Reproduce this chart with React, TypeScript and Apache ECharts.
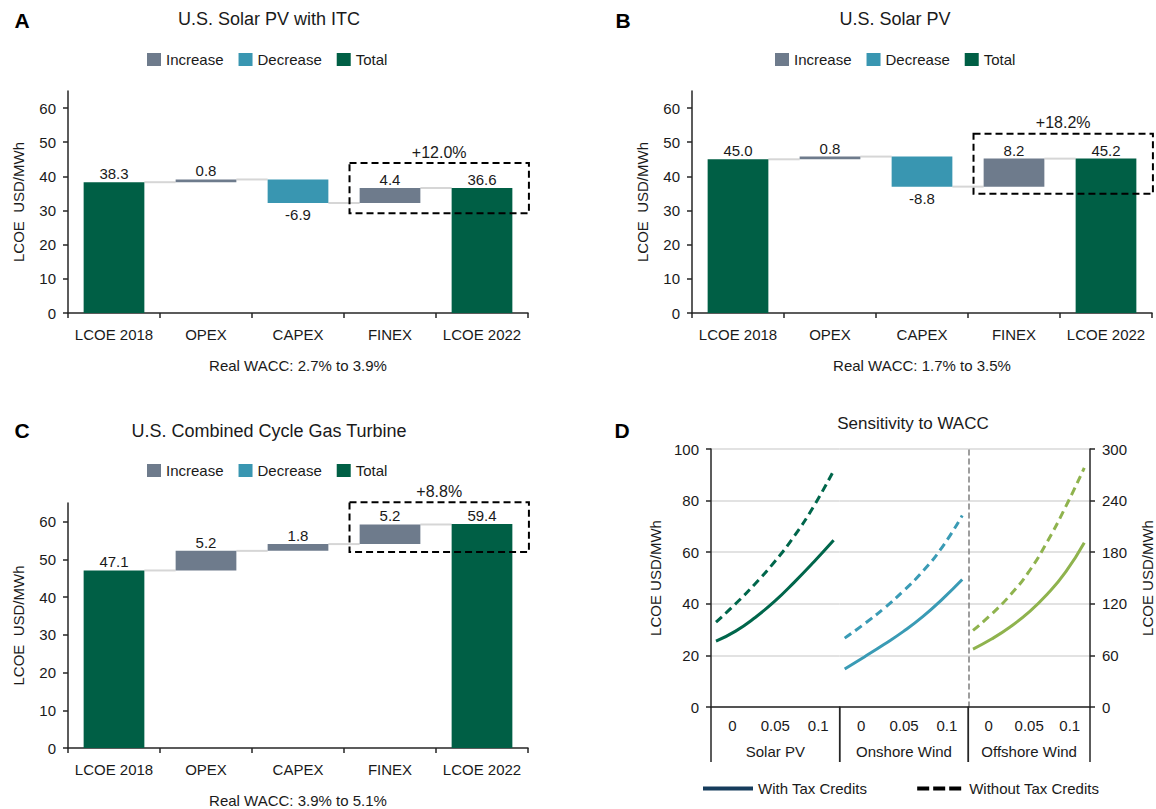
import React, { useEffect, useRef } from 'react';
import * as echarts from 'echarts';

const FONT = '"Liberation Sans", Arial, Helvetica, sans-serif';
const TEXT = '#1a1a1a';
const AXIS = '#262626';

// Waterfall panels
const categories = ['LCOE 2018', 'OPEX', 'CAPEX', 'FINEX', 'LCOE 2022'];
const yTicks = [0, 10, 20, 30, 40, 50, 60];
const solarItcValues = [38.3, 0.8, -6.9, 4.4, 36.6];
const solarValues = [45.0, 0.8, -8.8, 8.2, 45.2];
const ccgtValues = [47.1, 5.2, 1.8, 5.2, 59.4];
const solarItcBox = [29.2, 43.9];
const solarBox = [34.9, 52.5];
const ccgtBox = [52.0, 65.2];
const boxLabels = ['+12.0%', '+18.2%', '+8.8%'];
const panelTitles = ['U.S. Solar PV with ITC', 'U.S. Solar PV', 'U.S. Combined Cycle Gas Turbine', 'Sensitivity to WACC'];
const panelLetters = ['A', 'B', 'C', 'D'];
const waccNotes = ['Real WACC: 2.7% to 3.9%', 'Real WACC: 1.7% to 3.5%', 'Real WACC: 3.9% to 5.1%'];
const legendNames = ['Increase', 'Decrease', 'Total'];

// Sensitivity panel
const waccValues = [0, 0.02, 0.04, 0.06, 0.08, 0.1, 0.12];
const waccTickLabels = ['0', '0.05', '0.1'];
const technologies = ['Solar PV', 'Onshore Wind', 'Offshore Wind'];
const solarWith = [25.5, 29.4, 34.7, 41.0, 48.4, 56.3, 64.6];
const solarWithout = [32.9, 40.0, 47.8, 56.4, 66.3, 78.0, 91.6];
const onshoreWith = [14.7, 19.4, 24.2, 29.3, 35.1, 41.9, 49.4];
const onshoreWithout = [26.7, 32.2, 38.2, 45.0, 52.7, 62.2, 74.2];
const offshoreWith = [67.4, 79, 93, 110, 131, 157, 191];
const offshoreWithout = [89, 108, 130, 157, 192, 233, 278];
const lineNames = ['With Tax Credits', 'Without Tax Credits'];

const COLORS = {
  increase: '#6e7b8c',
  decrease: '#3996b1',
  total: '#005f45',
  solar: '#00664b',
  onshore: '#3a9bb5',
  offshore: '#8fb34e',
  withLegend: '#163c5c',
  withoutLegend: '#000000',
  connector: '#d6d6d6',
  grid: '#d9d9d9',
};

function buildWaterfall(vals: number[]) {
  const base: any[] = [];
  const inc: any[] = [];
  const dec: any[] = [];
  const tot: any[] = [];
  const levels: number[] = [];
  let run = vals[0];
  vals.forEach((v, i) => {
    if (i === 0 || i === vals.length - 1) {
      base.push(0);
      tot.push(v);
      inc.push('-');
      dec.push('-');
    } else {
      if (v >= 0) {
        base.push(run);
        inc.push(v);
        dec.push('-');
      } else {
        base.push(run + v);
        dec.push(-v);
        inc.push('-');
      }
      tot.push('-');
      run += v;
    }
    if (i < vals.length - 1) levels.push(i === 0 ? v : run);
  });
  return { base, inc, dec, tot, levels };
}

export default function App() {
  const ref = useRef<HTMLDivElement>(null);
  useEffect(() => {
    if (!ref.current) return;
    const chart = echarts.init(ref.current, null, { renderer: 'svg' });

    const grids = [
      { left: 68, top: 91, width: 460, height: 222 },
      { left: 692, top: 91, width: 460, height: 222 },
      { left: 68, top: 503, width: 460, height: 247 },
      { left: 711, top: 449, width: 128.7, height: 258 },
      { left: 839.7, top: 449, width: 128.6, height: 258 },
      { left: 968.3, top: 449, width: 128.7, height: 258 },
    ];

    const panels = [
      { vals: solarItcValues, box: solarItcBox },
      { vals: solarValues, box: solarBox },
      { vals: ccgtValues, box: ccgtBox },
    ];

    const xAxis: any[] = [];
    const yAxis: any[] = [];
    const series: any[] = [];

    panels.forEach((p, k) => {
      xAxis.push({
        type: 'category',
        gridIndex: k,
        data: categories,
        axisLine: { lineStyle: { color: AXIS, width: 1.5 } },
        axisTick: { show: true, length: 5, lineStyle: { color: AXIS, width: 1.5 } },
        axisLabel: { margin: 14, fontSize: 15, color: TEXT, fontFamily: FONT, interval: 0 },
        name: waccNotes[k],
        nameLocation: 'middle',
        nameGap: 45,
        nameTextStyle: { fontSize: 15, color: TEXT, fontFamily: FONT },
      });
      yAxis.push({
        type: 'value',
        gridIndex: k,
        min: 0,
        max: 65,
        interval: 10,
        axisLine: { show: true, onZero: false, lineStyle: { color: AXIS, width: 1.5 } },
        axisTick: { show: true, length: 5, customValues: yTicks, lineStyle: { color: AXIS, width: 1.5 } },
        axisLabel: { margin: 12, fontSize: 15, color: TEXT, fontFamily: FONT, customValues: yTicks },
        splitLine: { show: false },
        name: 'LCOE  USD/MWh',
        nameLocation: 'middle',
        nameRotate: 90,
        nameGap: 42,
        nameTextStyle: { fontSize: 15, color: TEXT, fontFamily: FONT },
      });
      const w = buildWaterfall(p.vals);
      const common = { type: 'bar', stack: 'wf' + k, xAxisIndex: k, yAxisIndex: k, barWidth: '66%' };
      series.push({ ...common, name: 'base', data: w.base, itemStyle: { color: 'transparent' }, silent: true });
      series.push({
        ...common,
        name: 'Increase',
        data: w.inc,
        itemStyle: { color: COLORS.increase },
        label: { show: true, position: 'top', distance: 1, fontSize: 15, color: TEXT, fontFamily: FONT, formatter: (q: any) => Number(q.value).toFixed(1) },
      });
      series.push({
        ...common,
        name: 'Decrease',
        data: w.dec,
        itemStyle: { color: COLORS.decrease },
        label: { show: true, position: 'bottom', distance: 4, fontSize: 15, color: TEXT, fontFamily: FONT, formatter: (q: any) => '-' + Number(q.value).toFixed(1) },
      });
      series.push({
        ...common,
        name: 'Total',
        data: w.tot,
        itemStyle: { color: COLORS.total },
        label: { show: true, position: 'top', distance: 1, fontSize: 15, color: TEXT, fontFamily: FONT, formatter: (q: any) => Number(q.value).toFixed(1) },
      });
      series.push({
        type: 'custom',
        name: 'connector' + k,
        xAxisIndex: k,
        yAxisIndex: k,
        silent: true,
        z: 1,
        data: w.levels.map((l, i) => [i, l]),
        renderItem: (params: any, api: any) => {
          const i = api.value(0);
          const l = api.value(1);
          const a = api.coord([i, l]);
          const b = api.coord([i + 1, l]);
          const half = (api.size([1, 0])[0] * 0.66) / 2;
          return {
            type: 'line',
            shape: { x1: a[0] + half, y1: a[1], x2: b[0] - half, y2: b[1] },
            style: { stroke: COLORS.connector, lineWidth: 2 },
          };
        },
      });
      series.push({
        type: 'custom',
        name: 'box' + k,
        xAxisIndex: k,
        yAxisIndex: k,
        silent: true,
        clip: false,
        z: 10,
        encode: { x: 0, y: [1, 2] },
        data: [[3, p.box[0], p.box[1]]],
        renderItem: (params: any, api: any) => {
          const start = api.value(0);
          const lo = api.value(1);
          const hi = api.value(2);
          const pLo = api.coord([start, lo]);
          const pHi = api.coord([start + 1, hi]);
          const band = api.size([1, 0])[0];
          const x1 = pLo[0] - 0.44 * band;
          const x2 = pHi[0] + 0.51 * band;
          return {
            type: 'group',
            children: [
              {
                type: 'rect',
                shape: { x: x1, y: pHi[1], width: x2 - x1, height: pLo[1] - pHi[1] },
                style: { fill: 'none', stroke: '#000', lineWidth: 2, lineDash: [7, 4] },
              },
              {
                type: 'text',
                x: (x1 + x2) / 2,
                y: pHi[1] - 3,
                style: { text: boxLabels[k], fill: TEXT, fontSize: 16, fontFamily: FONT, align: 'center', verticalAlign: 'bottom' },
              },
            ],
          };
        },
      });
    });

    // Sensitivity panel axes
    // hidden value axes for data (3,4,5)
    [0, 1, 2].forEach((g) => {
      xAxis.push({ type: 'value', gridIndex: 3 + g, min: -0.0051, max: 0.1262, show: false, position: 'top' });
    });
    // label category axes (6,7,8)
    [0, 1, 2].forEach((g) => {
      xAxis.push({
        type: 'category',
        gridIndex: 3 + g,
        position: 'bottom',
        data: waccTickLabels,
        axisLine: { show: true, onZero: false, lineStyle: { color: AXIS, width: 1.5 } },
        axisTick: { show: false },
        axisLabel: { margin: 11, fontSize: 15, color: TEXT, fontFamily: FONT, interval: 0 },
        name: technologies[g],
        nameLocation: 'middle',
        nameGap: 37,
        nameTextStyle: { fontSize: 15, color: TEXT, fontFamily: FONT },
      });
    });
    const splitLine = { show: true, lineStyle: { color: COLORS.grid, width: 1.5 } };
    yAxis.push({
      type: 'value', gridIndex: 3, min: 0, max: 100, interval: 20,
      axisLine: { show: true, onZero: false, lineStyle: { color: AXIS, width: 1.5 } },
      axisTick: { show: true, length: 5, lineStyle: { color: AXIS, width: 1.5 } },
      axisLabel: { margin: 12, fontSize: 15, color: TEXT, fontFamily: FONT },
      splitLine,
      name: 'LCOE USD/MWh', nameLocation: 'middle', nameRotate: 90, nameGap: 48,
      nameTextStyle: { fontSize: 15, color: TEXT, fontFamily: FONT },
    });
    yAxis.push({
      type: 'value', gridIndex: 4, min: 0, max: 100, interval: 20,
      axisLine: { show: false, onZero: false }, axisTick: { show: false }, axisLabel: { show: false }, splitLine,
    });
    yAxis.push({
      type: 'value', gridIndex: 5, position: 'right', min: 0, max: 300, interval: 60,
      axisLine: { show: true, onZero: false, lineStyle: { color: AXIS, width: 1.5 } },
      axisTick: { show: true, length: 5, lineStyle: { color: AXIS, width: 1.5 } },
      axisLabel: { margin: 12, fontSize: 15, color: TEXT, fontFamily: FONT },
      splitLine,
      name: 'LCOE USD/MWh', nameLocation: 'middle', nameRotate: 90, nameGap: 50,
      nameTextStyle: { fontSize: 15, color: TEXT, fontFamily: FONT },
    });
    yAxis.push({
      type: 'value', gridIndex: 5, position: 'left', min: 0, max: 300, interval: 60,
      axisLine: { show: true, onZero: false, lineStyle: { color: '#7f7f7f', width: 1.5, type: [5, 4] } },
      axisTick: { show: false }, axisLabel: { show: false }, splitLine: { show: false },
    });

    const lineSets = [
      { w: solarWith, wo: solarWithout, color: COLORS.solar, y: 3 },
      { w: onshoreWith, wo: onshoreWithout, color: COLORS.onshore, y: 4 },
      { w: offshoreWith, wo: offshoreWithout, color: COLORS.offshore, y: 5 },
    ];
    lineSets.forEach((s, g) => {
      series.push({
        type: 'line', name: technologies[g] + ' with', xAxisIndex: 3 + g, yAxisIndex: s.y,
        data: waccValues.map((x, i) => [x, s.w[i]]), smooth: true, symbol: 'none',
        lineStyle: { color: s.color, width: 3 }, itemStyle: { color: s.color },
      });
      series.push({
        type: 'line', name: technologies[g] + ' without', xAxisIndex: 3 + g, yAxisIndex: s.y,
        data: waccValues.map((x, i) => [x, s.wo[i]]), smooth: true, symbol: 'none',
        lineStyle: { color: s.color, width: 3, type: [8, 5] }, itemStyle: { color: s.color },
      });
      series.push({
        type: 'custom', name: 'sep' + g, xAxisIndex: 6 + g, yAxisIndex: s.y, silent: true, clip: false,
        data: [[0, 0]],
        renderItem: (params: any) => {
          const cs = params.coordSys;
          const y0 = cs.y + cs.height;
          return {
            type: 'group',
            children: [cs.x, cs.x + cs.width].map((x: number) => ({
              type: 'line',
              shape: { x1: x, y1: y0, x2: x, y2: y0 + 55 },
              style: { stroke: AXIS, lineWidth: 1.5 },
            })),
          };
        },
      });
    });
    series.push({
      type: 'line', name: lineNames[0], xAxisIndex: 3, yAxisIndex: 3, data: [],
      itemStyle: { color: COLORS.withLegend }, lineStyle: { color: COLORS.withLegend, width: 4 },
    });
    series.push({
      type: 'line', name: lineNames[1], xAxisIndex: 3, yAxisIndex: 3, data: [],
      itemStyle: { color: COLORS.withoutLegend }, lineStyle: { color: COLORS.withoutLegend, width: 4, type: 'dashed' },
    });

    const wfLegend = (left: number, top: number) => ({
      data: legendNames,
      left, top,
      icon: 'rect',
      itemWidth: 14, itemHeight: 13, itemGap: 15,
      selectedMode: false,
      textStyle: { fontSize: 15, color: TEXT, fontFamily: FONT },
    });

    const titlePos = [
      { x: 269, y: 19, lx: 22, ly: 20, size: 18 },
      { x: 895, y: 19, lx: 623, ly: 20, size: 18 },
      { x: 269, y: 431, lx: 22, ly: 430, size: 18 },
      { x: 913, y: 423, lx: 622, ly: 430, size: 17 },
    ];
    const graphic: any[] = [];
    titlePos.forEach((t, i) => {
      graphic.push({
        type: 'text', x: t.x, y: t.y,
        style: { text: panelTitles[i], fontSize: t.size, fontFamily: FONT, fill: TEXT, align: 'center', verticalAlign: 'middle' },
      });
      graphic.push({
        type: 'text', x: t.lx, y: t.ly,
        style: { text: panelLetters[i], fontSize: 21, fontWeight: 'bold', fontFamily: FONT, fill: '#000', align: 'center', verticalAlign: 'middle' },
      });
    });

    chart.setOption({
      animation: false,
      textStyle: { fontFamily: FONT },
      grid: grids.map((g) => ({ ...g, containLabel: false })),
      xAxis,
      yAxis,
      series,
      graphic,
      legend: [
        wfLegend(142, 47),
        wfLegend(770, 47),
        wfLegend(142, 458),
        {
          data: [
            { name: lineNames[0], icon: 'rect' },
            { name: lineNames[1], icon: 'path://M0 0H12V4H0Z M16 0H28V4H16Z M32 0H44V4H32Z' },
          ],
          left: 698, top: 776,
          itemWidth: 50, itemHeight: 4, itemGap: 50,
          selectedMode: false,
          textStyle: { fontSize: 15, color: TEXT, fontFamily: FONT },
        },
      ],
    });
    return () => chart.dispose();
  }, []);
  return <div ref={ref} style={{ position: 'absolute', left: 0, top: 0, width: 1156, height: 809, background: '#fff' }} />;
}
